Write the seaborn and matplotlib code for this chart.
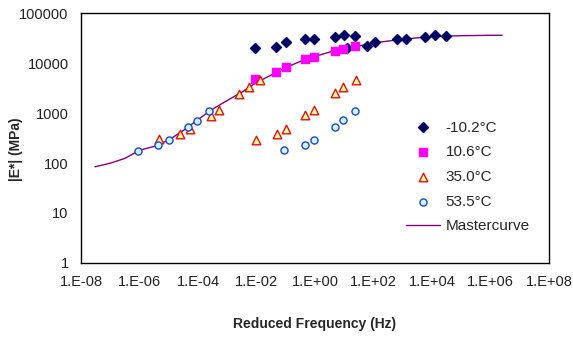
import numpy as np
import pandas as pd
import matplotlib
matplotlib.use("Agg")
import matplotlib.pyplot as plt
import seaborn as sns

freq_m10 = [0.0089, 0.0464, 0.1, 0.467, 0.95, 4.9, 9.6, 23.9,
            12.1, 62.4, 117, 620, 1260, 5870, 12300, 30200]
e_m10 = [20200, 21200, 25900, 29800, 29800, 33100, 35500, 35200,
         20400, 21600, 25900, 29800, 29800, 33100, 35800, 34700]

freq_106 = [0.0089, 0.0464, 0.1, 0.467, 0.95, 4.8, 9.3, 23.9]
e_106 = [4680, 6460, 8430, 11860, 13000, 17600, 19050, 21900]

freq_350 = [4.75e-6, 2.43e-5, 5.4e-5, 2.7e-4, 5.1e-4, 2.56e-3, 5.46e-3, 0.0135,
            0.0094, 0.049, 0.1, 0.467, 0.92, 5.0, 9.3, 24.5]
e_350 = [298, 375, 468, 880, 1175, 2430, 3310, 4570,
         295, 380, 472, 900, 1130, 2480, 3360, 4570]

freq_535 = [9.1e-7, 4.4e-6, 1.0e-5, 4.5e-5, 9.6e-5, 2.34e-4,
            0.085, 0.445, 0.93, 4.83, 9.3, 23.9]
e_535 = [176, 227, 291, 518, 708, 1096,
         180, 232, 288, 518, 714, 1081]

# master curve
freq_mc = [3e-8, 1e-7, 3.2e-7, 1e-6, 3.2e-6, 1e-5, 3.2e-5, 1e-4, 3.2e-4, 1e-3,
           3.2e-3, 1e-2, 3.2e-2, 1e-1, 3.2e-1, 1, 3.2, 10, 32, 100, 316,
           1000, 3160, 1e4, 1e5, 1e6, 2.5e6]
e_mc = [84, 99, 124, 180, 215, 288, 449, 741, 1200, 1780,
        2630, 4070, 5750, 8130, 10800, 13500, 16600, 19500, 21900, 25100, 27500,
        29800, 31900, 33600, 35200, 35800, 35900]

xticks = [1e-8, 1e-6, 1e-4, 1e-2, 1e0, 1e2, 1e4, 1e6, 1e8]
xtick_labels = ["1.E-08", "1.E-06", "1.E-04", "1.E-02", "1.E+00",
                "1.E+02", "1.E+04", "1.E+06", "1.E+08"]
yticks = [1, 10, 100, 1000, 10000, 100000]
ytick_labels = ["1", "10", "100", "1000", "10000", "100000"]

sns.set_style("white")
plt.rcParams["font.family"] = ["Liberation Sans", "DejaVu Sans"]

fig = plt.figure(figsize=(5.73, 3.37), dpi=100)
ax = fig.add_axes([0.1414, 0.2196, 0.8166, 0.7418])

mc = pd.DataFrame({"f": freq_mc, "E": e_mc})
sns.lineplot(data=mc, x="f", y="E", color="#800080", linewidth=1.0,
             ax=ax, zorder=1, label="Mastercurve")

series = [
    (freq_m10, e_m10, "-10.2°C", "D", "#000066", "#000066", 26),
    (freq_106, e_106, "10.6°C", "s", "#FF00FF", "#FF00FF", 28),
    (freq_350, e_350, "35.0°C", "^", "#FFFF99", "#E01010", 38),
    (freq_535, e_535, "53.5°C", "o", "#CCFFFF", "#2040E0", 26),
]
for f, e, name, mk, fc, ec, s in series:
    df = pd.DataFrame({"f": f, "E": e})
    sns.scatterplot(data=df, x="f", y="E", marker=mk, color=fc,
                    edgecolor=ec, linewidth=1.0, s=s, ax=ax, zorder=3,
                    label=name)

ax.set_xscale("log")
ax.set_yscale("log")
ax.set_xlim(1e-8, 1e8)
ax.set_ylim(1, 1e5)
ax.set_xticks(xticks)
ax.set_xticklabels(xtick_labels)
ax.set_yticks(yticks)
ax.set_yticklabels(ytick_labels)
ax.minorticks_off()
ax.tick_params(axis="x", direction="in", length=4, width=0.8, pad=9,
               labelsize=10.5, colors="#222222")
ax.tick_params(axis="y", direction="out", length=4, width=0.8, pad=5,
               labelsize=10.5, colors="#222222")
for sp in ax.spines.values():
    sp.set_color("black")
    sp.set_linewidth(1.0)

ax.set_xlabel("Reduced Frequency (Hz)", fontsize=10, fontweight="bold")
ax.set_ylabel("|E*| (MPa)", fontsize=10, fontweight="bold")
ax.xaxis.set_label_coords(0.5, -0.215)
ax.yaxis.set_label_coords(-0.125, 0.456)

handles, labels = ax.get_legend_handles_labels()
order = [labels.index(n) for n in ["-10.2°C", "10.6°C", "35.0°C", "53.5°C", "Mastercurve"]]
ax.legend([handles[i] for i in order], [labels[i] for i in order],
          loc="upper left", bbox_to_anchor=(0.665, 0.625), frameon=False,
          fontsize=11, handlelength=2.2, labelspacing=0.7, handletextpad=0.4)

fig.savefig("out.png", dpi=100)
